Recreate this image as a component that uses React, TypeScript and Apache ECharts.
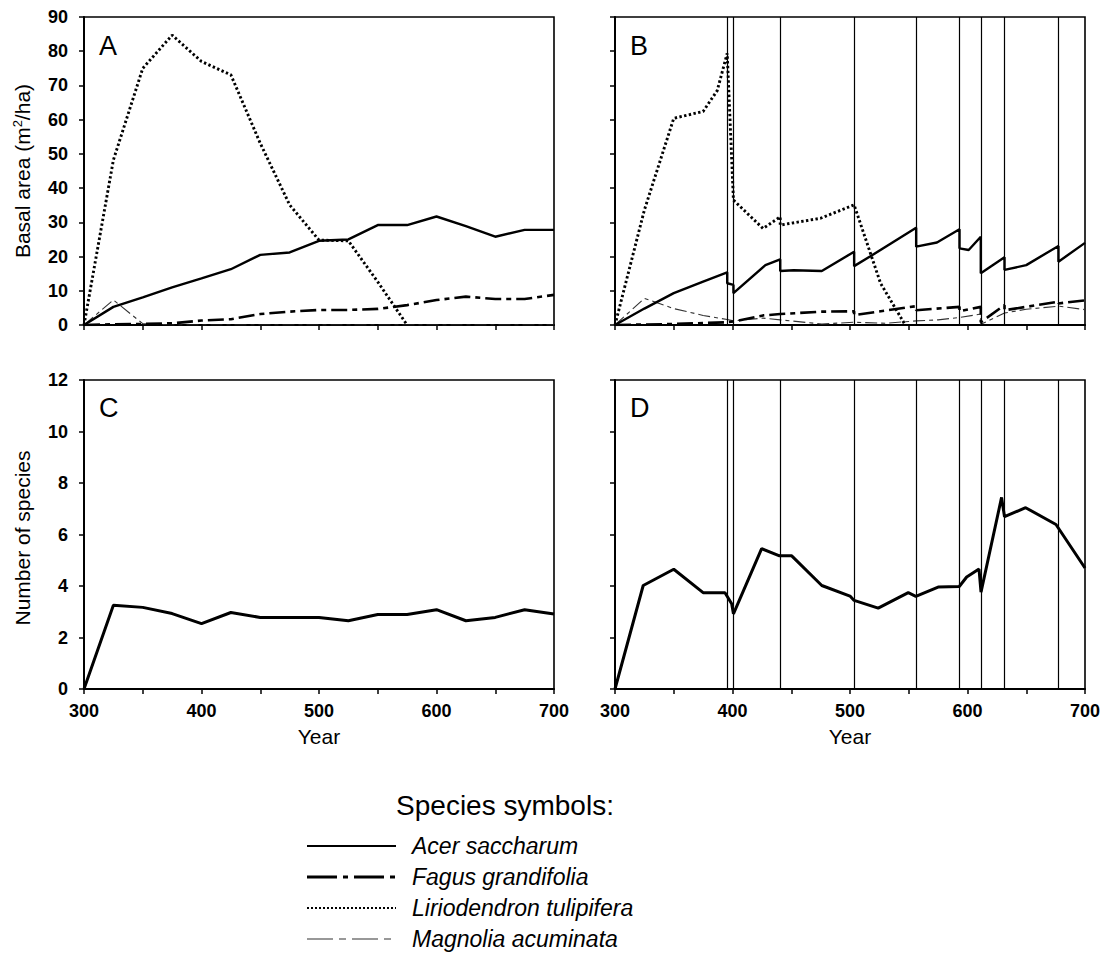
import React, { useEffect, useRef } from "react";
import * as echarts from "echarts";

// ---- Undisturbed stand (panels A and C), sampled every 25 years ----
const YEARS = [300, 325, 350, 375, 400, 425, 450, 475, 500, 525, 550, 575, 600, 625, 650, 675, 700];
const ACER_A = [0, 5.3, 8.1, 11.0, 13.6, 16.3, 20.5, 21.2, 24.6, 25.0, 29.2, 29.2, 31.7, 28.9, 25.8, 27.8, 27.8];
const FAGUS_A = [0, 0.2, 0.3, 0.5, 1.3, 1.7, 3.2, 3.9, 4.4, 4.4, 4.7, 5.8, 7.3, 8.3, 7.6, 7.6, 8.8];
const LIRIO_A = [0, 48.2, 75.0, 84.7, 77.0, 73.1, 53.1, 35.1, 24.8, 24.6, 12.6, 0];
const MAGNOLIA_A = [0, 7.3, 0.4, 0, 0, 0, 0, 0, 0, 0, 0, 0, 0, 0, 0, 0, 0];
const SPECIES_C = [0, 3.25, 3.17, 2.93, 2.54, 2.97, 2.78, 2.78, 2.78, 2.65, 2.89, 2.89, 3.08, 2.65, 2.78, 3.08, 2.91];

// ---- Disturbed stand (panels B and D) ----
const DISTURBANCE_YEARS = [395.5, 400.8, 440.6, 503.5, 556.3, 593.2, 611.3, 631.5, 677.4];

const ACER_B_YEARS = [300, 325, 350, 375, 395.5, 395.5, 400.8, 400.8, 428, 440.6, 440.6, 452, 476, 503.5, 503.5, 517, 556.3, 556.3, 574, 593.2, 593.2, 601, 611.3, 611.3, 631.5, 631.5, 650, 677.4, 677.4, 700];
const ACER_B = [0, 4.8, 9.3, 12.7, 15.4, 12.2, 11.7, 9.3, 17.5, 19.2, 15.8, 16.0, 15.8, 21.4, 17.2, 20.0, 28.4, 22.9, 24.1, 28.0, 22.4, 21.9, 25.8, 15.1, 19.8, 16.1, 17.5, 23.1, 18.5, 24.0];

const FAGUS_B_YEARS = [300, 350, 395.5, 400.8, 426, 440.6, 440.6, 476, 503.5, 503.5, 556.3, 556.3, 593.2, 593.2, 611.3, 611.3, 631.5, 631.5, 677.4, 677.4, 700];
const FAGUS_B = [0, 0.3, 0.8, 1.0, 2.8, 3.2, 3.0, 3.9, 4.0, 2.9, 5.5, 4.3, 5.3, 4.0, 5.3, 0.8, 5.8, 4.3, 6.8, 6.3, 7.2];

const LIRIO_B_YEARS = [300, 325, 350, 375, 387, 395.5, 400.8, 426, 440.6, 440.6, 475, 503.5, 526, 547];
const LIRIO_B = [0, 33.6, 60.4, 62.4, 68.5, 79.4, 36.5, 28.2, 31.6, 29.2, 31.2, 35.1, 12.2, 0];

const MAGNOLIA_B_YEARS = [300, 325, 350, 375, 395.5, 400.8, 426, 440.6, 476, 503.5, 530, 556.3, 575, 593.2, 611.3, 611.3, 631.5, 650, 677.4, 700];
const MAGNOLIA_B = [0, 7.8, 4.8, 2.8, 1.6, 1.2, 2.0, 1.5, 0.3, 0.8, 0.5, 1.2, 1.5, 2.2, 3.2, 0.2, 3.5, 4.6, 5.5, 4.5];

const SPECIES_D_YEARS = [300, 324, 350, 375, 393.6, 399.3, 400.8, 424.8, 440, 450.4, 476, 500, 503.5, 524, 549.6, 556, 575, 593, 599.3, 609.8, 611.5, 629, 631.5, 649.5, 675.3, 700];
const SPECIES_D = [0, 4.02, 4.65, 3.74, 3.74, 3.31, 2.92, 5.45, 5.17, 5.17, 4.02, 3.61, 3.44, 3.14, 3.74, 3.6, 3.96, 3.98, 4.35, 4.66, 3.76, 7.44, 6.69, 7.04, 6.39, 4.7];

// ---- Axis labels ----
const X_LABEL_YEARS = [300, 400, 500, 600, 700];
const BASAL_TICKS = { min: 0, max: 90, interval: 10 };
const SPECIES_TICKS = { min: 0, max: 12, interval: 2 };
const PANEL_LETTERS = ["A", "B", "C", "D"];
const LEGEND_NAMES = ["Acer saccharum", "Fagus grandifolia", "Liriodendron tulipifera", "Magnolia acuminata"];

const FONT = "'Liberation Sans', Arial, Helvetica, sans-serif";

const zip = (xs: number[], ys: (number | null)[]) => ys.map((y, i) => [xs[i], y]);

// Line looks for each species
const STYLE_ACER = { color: "#000", width: 2.4, type: "solid" as any };
const STYLE_FAGUS = { color: "#000", width: 2.6, type: [16, 5, 5, 5] as any };
const STYLE_LIRIO = { color: "#000", width: 2.9, type: [2.4, 2.4] as any };
const STYLE_MAGNOLIA = { color: "#333", width: 1.1, type: [12, 4, 4, 4] as any };

export default function App() {
  const ref = useRef<HTMLDivElement>(null);

  useEffect(() => {
    if (!ref.current) return;
    const chart = echarts.init(ref.current, undefined, { renderer: "svg" });

    const grids = [
      { left: 84, top: 17, width: 470, height: 308 },
      { left: 615, top: 17, width: 470, height: 308 },
      { left: 84, top: 380, width: 470, height: 309 },
      { left: 615, top: 380, width: 470, height: 309 },
    ].map((g) => ({ ...g, show: true, borderColor: "#000", borderWidth: 1.6, backgroundColor: "transparent" }));

    const xAxis = [0, 1, 2, 3].map((i) => ({
      type: "value",
      gridIndex: i,
      min: 300,
      max: 700,
      interval: 50,
      axisLine: { show: true, onZero: false, lineStyle: { color: "#000", width: 2 } },
      axisTick: { show: true, length: 5, lineStyle: { color: "#000", width: 1.5 } },
      splitLine: { show: false },
      axisLabel: {
        show: i >= 2,
        margin: 13,
        color: "#000",
        fontFamily: FONT,
        fontSize: 18,
        fontWeight: "bold",
        showMinLabel: true,
        showMaxLabel: true,
        formatter: (v: number) => (X_LABEL_YEARS.includes(v) ? String(v) : ""),
      },
    }));

    const yAxis = [0, 1, 2, 3].map((i) => {
      const t = i < 2 ? BASAL_TICKS : SPECIES_TICKS;
      return {
        type: "value",
        gridIndex: i,
        min: t.min,
        max: t.max,
        interval: t.interval,
        axisLine: { show: true, lineStyle: { color: "#000", width: 2 } },
        axisTick: { show: true, length: 5, lineStyle: { color: "#000", width: 1.5 } },
        splitLine: { show: false },
        axisLabel: {
          show: i === 0 || i === 2,
          margin: 16,
          color: "#000",
          fontFamily: FONT,
          fontSize: 18,
          fontWeight: "bold",
        },
      };
    });

    const disturbanceLines = {
      silent: true,
      symbol: ["none", "none"],
      label: { show: false },
      lineStyle: { color: "#000", width: 1.2, type: "solid" },
      data: DISTURBANCE_YEARS.map((x) => ({ xAxis: x })),
    };

    const line = (name: string, idx: number, data: any[], lineStyle: any, extra: any = {}) => ({
      type: "line",
      name,
      xAxisIndex: idx,
      yAxisIndex: idx,
      data,
      showSymbol: false,
      symbol: "none",
      lineStyle,
      silent: true,
      ...extra,
    });

    const series = [
      // Panel A
      line("Magnolia acuminata", 0, zip(YEARS, MAGNOLIA_A), STYLE_MAGNOLIA),
      line("Fagus grandifolia", 0, zip(YEARS, FAGUS_A), STYLE_FAGUS),
      line("Liriodendron tulipifera", 0, zip(YEARS, LIRIO_A), STYLE_LIRIO),
      line("Acer saccharum", 0, zip(YEARS, ACER_A), STYLE_ACER),
      // Panel B
      line("Magnolia acuminata", 1, zip(MAGNOLIA_B_YEARS, MAGNOLIA_B), STYLE_MAGNOLIA),
      line("Fagus grandifolia", 1, zip(FAGUS_B_YEARS, FAGUS_B), STYLE_FAGUS),
      line("Liriodendron tulipifera", 1, zip(LIRIO_B_YEARS, LIRIO_B), STYLE_LIRIO),
      line("Acer saccharum", 1, zip(ACER_B_YEARS, ACER_B), STYLE_ACER, { markLine: disturbanceLines }),
      // Panel C
      line("Number of species", 2, zip(YEARS, SPECIES_C), { color: "#000", width: 3 }),
      // Panel D
      line("Number of species", 3, zip(SPECIES_D_YEARS, SPECIES_D), { color: "#000", width: 3 }, { markLine: disturbanceLines }),
    ];

    const letterPos = [
      [99, 46],
      [630, 46],
      [99, 408],
      [630, 408],
    ];

    const legendStyles = [STYLE_ACER, STYLE_FAGUS, STYLE_LIRIO, STYLE_MAGNOLIA];
    const legendDash = [null, [30, 6, 5, 6], [2, 2], [26, 6, 7, 6]];
    const legendWidth = [2, 3, 2.2, 1.1];
    const legendRowsY = [846, 877, 908, 939];

    const graphic: any[] = [
      ...PANEL_LETTERS.map((t, i) => ({
        type: "text",
        x: letterPos[i][0],
        y: letterPos[i][1],
        style: { text: t, fontFamily: FONT, fontSize: 27, fill: "#000", verticalAlign: "middle", align: "left" },
      })),
      {
        type: "text",
        x: 22,
        y: 171,
        rotation: Math.PI / 2,
        style: {
          text: "Basal area (m{sup|2}/ha)",
          fontFamily: FONT,
          fontSize: 21,
          fill: "#000",
          align: "center",
          verticalAlign: "middle",
          rich: { sup: { fontFamily: FONT, fontSize: 13, fill: "#000", verticalAlign: "top", padding: [0, 0, 9, 0] } },
        },
      },
      {
        type: "text",
        x: 22,
        y: 538,
        rotation: Math.PI / 2,
        style: { text: "Number of species", fontFamily: FONT, fontSize: 21, fill: "#000", align: "center", verticalAlign: "middle" },
      },
      {
        type: "text",
        x: 319,
        y: 736,
        style: { text: "Year", fontFamily: FONT, fontSize: 21, fill: "#000", align: "center", verticalAlign: "middle" },
      },
      {
        type: "text",
        x: 850,
        y: 736,
        style: { text: "Year", fontFamily: FONT, fontSize: 21, fill: "#000", align: "center", verticalAlign: "middle" },
      },
      {
        type: "text",
        x: 505,
        y: 805,
        style: { text: "Species symbols:", fontFamily: FONT, fontSize: 28, fill: "#000", align: "center", verticalAlign: "middle" },
      },
      ...LEGEND_NAMES.flatMap((name, i) => [
        {
          type: "line",
          shape: { x1: 307, y1: legendRowsY[i], x2: 396, y2: legendRowsY[i] },
          style: {
            stroke: legendStyles[i].color,
            lineWidth: legendWidth[i],
            lineDash: legendDash[i] || undefined,
          },
        },
        {
          type: "text",
          x: 412,
          y: legendRowsY[i],
          style: {
            text: name,
            fontFamily: FONT,
            fontSize: 23,
            fontStyle: "italic",
            fill: "#000",
            align: "left",
            verticalAlign: "middle",
          },
        },
      ]),
    ];

    chart.setOption({
      animation: false,
      backgroundColor: "#fff",
      grid: grids,
      xAxis,
      yAxis,
      series,
      graphic,
    });

    return () => chart.dispose();
  }, []);

  return <div ref={ref} style={{ position: "fixed", left: 0, top: 0, width: 1106, height: 958 }} />;
}
